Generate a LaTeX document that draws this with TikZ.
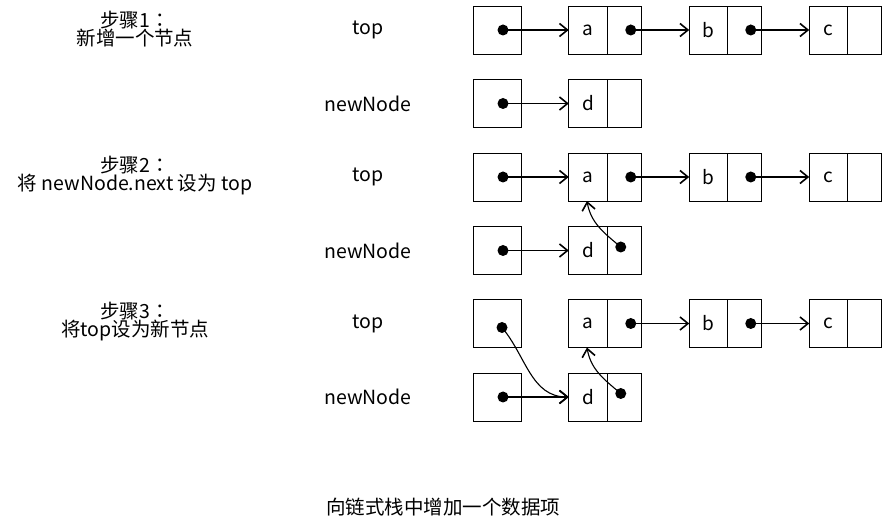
\documentclass[tikz,border=0pt]{standalone}
\usepackage{fontspec}
\setmainfont{Noto Sans CJK SC}
\newfontfamily\punctfont{Noto Sans CJK TC}
\usetikzlibrary{positioning,arrows.meta}

\tikzset{
  ptrbox/.style={draw, line width=0.9pt, outer sep=0pt, minimum width=48pt, minimum height=48pt},
  datacell/.style={draw, line width=0.9pt, outer sep=0pt, inner sep=0pt, minimum width=38.5pt, minimum height=48pt,
    font=\fontsize{19}{19}\selectfont},
  nextcell/.style={draw, line width=0.9pt, outer sep=0pt, minimum width=34pt, minimum height=48pt},
  lbl/.style={font=\fontsize{19.5}{18}\selectfont, align=center, inner sep=0pt},
  arr/.style={-{Straight Barb[length=8pt,width=13pt,line width=1.6pt]}, line width=1.1pt},
}

\begin{document}
\begin{tikzpicture}[x=1pt,y=-1pt]
  \useasboundingbox (0,0) rectangle (887,529);

  \node[lbl] (step1) at (135,29) {步骤1{\punctfont ：}\\新增一个节点};
  \node[lbl] (step2) at (135,176) {步骤2{\punctfont ：}\\将 newNode.next 设为 top};
  \node[lbl] (step3) at (135,322) {步骤3{\punctfont ：}\\将top设为新节点};
  \node[lbl] (caption) at (443,507) {向链式栈中增加一个数据项};

  \foreach \s/\y in {1/30,2/177,3/323.5} {
    \node[lbl] (top\s) at (368,\y) {top};
    \node[lbl] (new\s) at (368,\y+73.5) {newNode};

    \node[ptrbox] (tp\s) at (497,\y) {};
    \node[ptrbox] (np\s) at (497,\y+73.5) {};

    \node[datacell] (a\s) at (588,\y) {a};
    \node[nextcell, right=0pt of a\s] (an\s) {};
    \node[datacell] (b\s) at (708.5,\y) {b};
    \node[nextcell, right=0pt of b\s] (bn\s) {};
    \node[datacell] (c\s) at (828.5,\y) {c};
    \node[nextcell, right=0pt of c\s] (cn\s) {};
    \node[datacell] (d\s) at (588,\y+73.5) {d};
    \node[nextcell, right=0pt of d\s] (dn\s) {};

    \coordinate (and\s) at ([shift={(6.5,0)}]an\s.center);
    \coordinate (bnd\s) at ([shift={(6,0)}]bn\s.center);
    \coordinate (npd\s) at ([shift={(6,0)}]np\s.center);

    \fill (and\s) circle [radius=5.5pt];
    \fill (bnd\s) circle [radius=5.5pt];
    \fill (npd\s) circle [radius=5.5pt];

    \draw[arr] (and\s) -- (b\s);
    \draw[arr] (bnd\s) -- (c\s);
    \draw[arr] (npd\s) -- (d\s);
  }

  % top -> a in steps 1 and 2
  \foreach \s in {1,2} {
    \coordinate (tpd\s) at ([shift={(6,0)}]tp\s.center);
    \fill (tpd\s) circle [radius=5.5pt];
    \draw[arr] (tpd\s) -- (a\s);
  }

  % d.next -> a in steps 2 and 3
  \foreach \s in {2,3} {
    \coordinate (dnd\s) at ([shift={(-3.5,-3.5)}]dn\s.center);
    \fill (dnd\s) circle [radius=5.5pt];
    \draw[arr] (dnd\s) to[out=140,in=-80] ([xshift=-1pt]a\s.south);
  }

  % top -> d in step 3
  \coordinate (tpd3) at ([shift={(5,4)}]tp3.center);
  \fill (tpd3) circle [radius=5.5pt];
  \draw[arr] (tpd3) to[out=-50,in=180] (d3);
\end{tikzpicture}
\end{document}
